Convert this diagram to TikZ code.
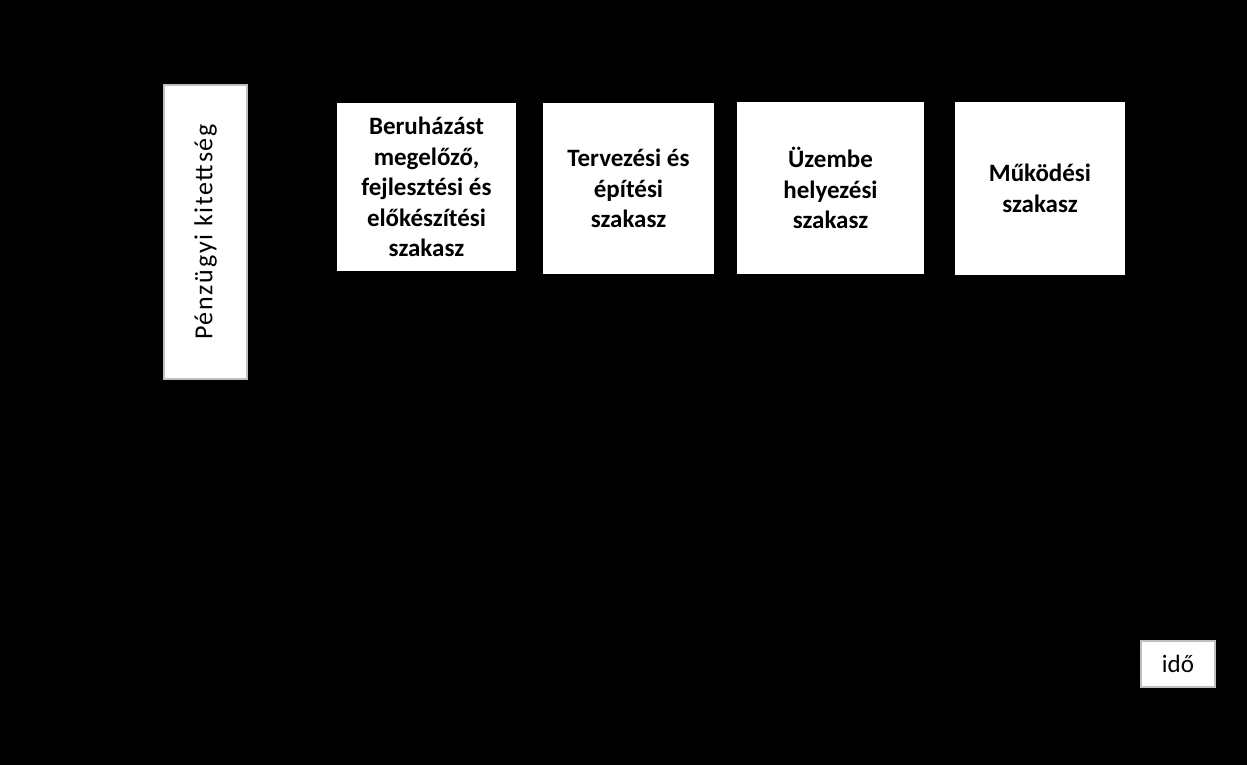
\documentclass[tikz,border=0pt]{standalone}
\usepackage{fontspec}
\setmainfont{Carlito}
\newfontfamily\spacedfont[LetterSpace=6.5]{Carlito}
\tikzset{
  phase/.style={fill=white, align=center, inner sep=0pt,
    font=\bfseries\fontsize{25}{30.5}\selectfont},
  axislabel/.style={fill=white, draw=black!25, line width=1.2pt, inner sep=0pt,
    font=\fontsize{25}{30.5}\selectfont}
}
\begin{document}
\begin{tikzpicture}[x=1pt,y=-1pt]
      \fill[black] (0,0) rectangle (1247,765);
      \useasboundingbox (0,0) rectangle (1247,765);
      \node[axislabel, minimum width=294pt, minimum height=83pt, rotate=90,
        font=\spacedfont\fontsize{26}{31}\selectfont]
        (exposure) at (205.5,232) {Pénzügyi kitettség};
      \node[axislabel, minimum width=74pt, minimum height=46pt]
        (time) at (1178,664) {idő};
      \node[phase, minimum width=179pt, minimum height=168pt]
        (prep) at (426.5,187)
        {Beruházást\\megelőző,\\fejlesztési és\\előkészítési\\szakasz};
      \node[phase, minimum width=171pt, minimum height=171pt]
        (build) at (628.5,188.5) {Tervezési és\\építési\\szakasz};
      \node[phase, minimum width=187pt, minimum height=172pt]
        (commission) at (830.5,188) {Üzembe\\helyezési\\szakasz};
      \node[phase, minimum width=170pt, minimum height=173pt]
        (operation) at (1040,188.5) {Működési\\szakasz};
    \end{tikzpicture}
\end{document}
